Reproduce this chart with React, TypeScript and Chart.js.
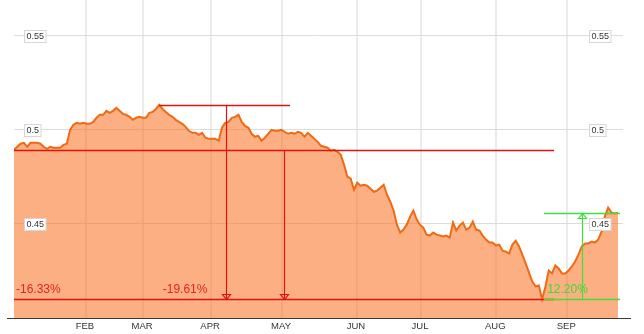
import { useEffect, useRef } from "react";
import { Chart, registerables } from "chart.js";

Chart.register(...registerables);

// Daily closing values (trading days, early Jan to late Sep)
const prices = [
  0.4894, 0.491, 0.4926, 0.4931, 0.491, 0.4931, 0.4931, 0.4931, 0.4926, 0.491,
  0.4899, 0.491, 0.4905, 0.4905, 0.4905, 0.492, 0.4926, 0.5, 0.5027, 0.5037,
  0.5032, 0.5037, 0.5032, 0.5032, 0.5042, 0.5064, 0.508, 0.508, 0.5101, 0.509,
  0.5101, 0.5117, 0.5101, 0.5085, 0.508, 0.5069, 0.5053, 0.5064, 0.5069, 0.5064,
  0.5064, 0.509, 0.5095, 0.5111, 0.5133, 0.5111, 0.5095, 0.508, 0.5069, 0.5053,
  0.5042, 0.5032, 0.5016, 0.4995, 0.4984, 0.4984, 0.4973, 0.4984, 0.4958, 0.4952,
  0.4952, 0.4952, 0.4942, 0.5011, 0.5037, 0.5042, 0.5064, 0.5069, 0.508, 0.5042,
  0.5021, 0.5011, 0.4979, 0.4963, 0.4968, 0.4942, 0.4958, 0.4979, 0.5, 0.4995,
  0.4995, 0.5, 0.4989, 0.4979, 0.4984, 0.4979, 0.4989, 0.4984, 0.4963, 0.4984,
  0.4968, 0.4952, 0.4936, 0.4915, 0.491, 0.4905, 0.4889, 0.4894, 0.4883, 0.4867,
  0.4814, 0.4751, 0.474, 0.4682, 0.4719, 0.4703, 0.4708, 0.4703, 0.4687, 0.4671,
  0.4677, 0.4692, 0.4708, 0.4655, 0.4618, 0.4571, 0.4496, 0.4454, 0.447, 0.4496,
  0.4539, 0.4571, 0.4523, 0.4496, 0.448, 0.4443, 0.4438, 0.4454, 0.4443, 0.4438,
  0.4433, 0.4438, 0.4427, 0.4507, 0.4465, 0.4491, 0.4507, 0.447, 0.448, 0.4512,
  0.447, 0.4465, 0.4438, 0.4417, 0.4401, 0.4401, 0.4385, 0.439, 0.4358, 0.4353,
  0.4343, 0.439, 0.4411, 0.438, 0.4337, 0.429, 0.4242, 0.4194, 0.4168, 0.4173,
  0.4099, 0.4168, 0.4252, 0.4237, 0.4279, 0.4263, 0.4237, 0.4237, 0.4252, 0.4274,
  0.43, 0.4337, 0.438, 0.4396, 0.4396, 0.4406, 0.4401, 0.4417, 0.4459, 0.4539,
  0.4586, 0.456, 0.4555, 0.456,
];

const monthLabels = ["FEB", "MAR", "APR", "MAY", "JUN", "JUL", "AUG", "SEP"];
const monthStartIdx = [21.8, 39.1, 59.7, 81.2, 103.9, 123.3, 146.1, 167.6];
const yTickValues = [0.45, 0.5, 0.55];
const yTickLabels = ["0.45", "0.5", "0.55"];

// Drawdown annotations: from reference point index down to the low
const drawdownFromIdx = [0, 44];
const drawdownLowIdx = 160;
const drawdownLineEndIdx = [163.6, 83.6];
const drawdownArrowIdx = [81.8, 64.2];
const drawdownLabels = ["-16.33%", "-19.61%"];

// Rally annotation: from the low to the last value
const rallyFromIdx = 160;
const rallyToIdx = 183;
const rallyLineStartIdx = 160.5;
const rallyLineEndIdx = 183.5;
const rallyArrowIdx = 172.1;
const rallyLabel = "12.20%";

const RED = "#e01212";
const RED_TEXT = "#e8231c";
const GREEN = "#3ee03a";
const GREEN_TEXT = "#3ddc30";
const FONT = "'Liberation Sans', Arial, sans-serif";

const crisp = (v: number) => Math.round(v) + 0.5;

const overlayPlugin = {
  id: "overlay",
  afterDatasetsDraw(chart: any) {
    const ctx: CanvasRenderingContext2D = chart.ctx;
    const xs = chart.scales.x;
    const ys = chart.scales.y;
    const px = (i: number) => xs.getPixelForValue(i);
    const py = (v: number) => ys.getPixelForValue(v);
    ctx.save();

    const hLine = (x1: number, x2: number, y: number, c: string) => {
      ctx.strokeStyle = c;
      ctx.lineWidth = 1.3;
      ctx.beginPath();
      ctx.moveTo(Math.round(x1), crisp(y));
      ctx.lineTo(Math.round(x2), crisp(y));
      ctx.stroke();
    };
    const vLine = (x: number, y1: number, y2: number, c: string) => {
      ctx.strokeStyle = c;
      ctx.lineWidth = 1.2;
      ctx.beginPath();
      ctx.moveTo(crisp(x), Math.round(y1));
      ctx.lineTo(crisp(x), Math.round(y2));
      ctx.stroke();
    };
    const tri = (x: number, tipY: number, dir: number, c: string) => {
      const cx = crisp(x);
      const ty = Math.round(tipY) + 0.5;
      ctx.strokeStyle = c;
      ctx.lineWidth = 1.2;
      ctx.beginPath();
      ctx.moveTo(cx, ty);
      ctx.lineTo(cx - 4, ty - 5 * dir);
      ctx.lineTo(cx + 4, ty - 5 * dir);
      ctx.closePath();
      ctx.stroke();
    };

    const lowY = py(prices[drawdownLowIdx]);
    // bottom red line at the low
    hLine(px(0), px(drawdownLineEndIdx[0]), lowY, RED);
    drawdownFromIdx.forEach((fi, k) => {
      const topY = py(prices[fi]);
      hLine(px(fi), px(drawdownLineEndIdx[k]), topY, RED);
      vLine(px(drawdownArrowIdx[k]), topY, lowY, RED);
      tri(px(drawdownArrowIdx[k]), lowY, 1, RED);
    });
    ctx.font = `12px ${FONT}`;
    ctx.fillStyle = RED_TEXT;
    ctx.textBaseline = "alphabetic";
    ctx.textAlign = "left";
    drawdownFromIdx.forEach((fi, k) => {
      ctx.fillText(drawdownLabels[k], px(fi) + (k === 0 ? 2 : 3.5), lowY - 6);
    });

    // rally
    const rLow = py(prices[rallyFromIdx]);
    const rHigh = py(prices[rallyToIdx]);
    hLine(px(rallyLineStartIdx), px(rallyLineEndIdx), rHigh, GREEN);
    hLine(px(rallyLineStartIdx), px(rallyLineEndIdx), rLow, GREEN);
    vLine(px(rallyArrowIdx), rHigh, rLow, GREEN);
    tri(px(rallyArrowIdx), rHigh, -1, GREEN);
    ctx.fillStyle = GREEN_TEXT;
    ctx.fillText(rallyLabel, px(rallyFromIdx) + 5, rLow - 6);

    // y tick label boxes
    ctx.font = `9px ${FONT}`;
    ctx.textBaseline = "middle";
    ctx.lineWidth = 1;
    yTickValues.forEach((v, k) => {
      const y = py(v);
      const t = yTickLabels[k];
      const w = ctx.measureText(t).width + 4;
      [24.5, 589.5].forEach((bx) => {
        ctx.fillStyle = "#ffffff";
        ctx.fillRect(bx, Math.round(y) - 6 + 0.5, w, 12);
        ctx.strokeStyle = "#d6d6d6";
        ctx.strokeRect(bx, Math.round(y) - 6 + 0.5, w, 12);
        ctx.fillStyle = "#333333";
        ctx.fillText(t, bx + 2, Math.round(y) + 0.5);
      });
    });
    ctx.restore();
  },
  afterDraw(chart: any) {
    const ctx: CanvasRenderingContext2D = chart.ctx;
    const xs = chart.scales.x;
    const area = chart.chartArea;
    ctx.save();
    ctx.strokeStyle = "#3a3a3a";
    ctx.lineWidth = 1;
    ctx.beginPath();
    ctx.moveTo(7, crisp(area.bottom));
    ctx.lineTo(631, crisp(area.bottom));
    ctx.stroke();
    ctx.font = `9.5px ${FONT}`;
    ctx.fillStyle = "#333333";
    ctx.textAlign = "center";
    ctx.textBaseline = "middle";
    monthStartIdx.forEach((m, k) => {
      ctx.fillText(monthLabels[k], xs.getPixelForValue(m) - 1, area.bottom + 8);
    });
    ctx.restore();
  },
};

export default function App() {
  const ref = useRef<HTMLCanvasElement | null>(null);
  useEffect(() => {
    document.body.style.margin = "0";
    const canvas = ref.current;
    if (!canvas) return;
    const chart = new Chart(canvas, {
      type: "line",
      data: {
        datasets: [
          {
            data: prices.map((v, i) => ({ x: i, y: v })),
            borderColor: "#f06a14",
            borderWidth: 2,
            backgroundColor: "rgba(249,112,32,0.56)",
            fill: "start",
            pointRadius: 0,
            tension: 0,
          },
        ],
      },
      options: {
        animation: false,
        responsive: false,
        events: [],
        layout: { padding: { left: 14, right: 21, top: 0, bottom: 16 } },
        plugins: { legend: { display: false }, tooltip: { enabled: false } },
        scales: {
          x: {
            type: "linear",
            min: 0,
            max: 184.5,
            border: { display: false },
            ticks: { display: false },
            grid: { color: "#ebebeb", lineWidth: 2, drawTicks: false },
            afterBuildTicks: (s: any) => {
              s.ticks = monthStartIdx.map((v) => ({ value: v }));
            },
            afterFit: (s: any) => {
              s.height = 0;
            },
          },
          y: {
            type: "linear",
            min: 0.4,
            max: 0.569,
            border: { display: false },
            ticks: { display: false },
            grid: { color: "#dcdcdc", lineWidth: 1, drawTicks: false },
            afterBuildTicks: (s: any) => {
              s.ticks = yTickValues.map((v) => ({ value: v }));
            },
            afterFit: (s: any) => {
              s.width = 0;
            },
          },
        },
      },
      plugins: [overlayPlugin],
    });
    return () => chart.destroy();
  }, []);
  return (
    <div style={{ width: 644, height: 334 }}>
      <canvas ref={ref} width={644} height={334} style={{ display: "block" }} />
    </div>
  );
}
